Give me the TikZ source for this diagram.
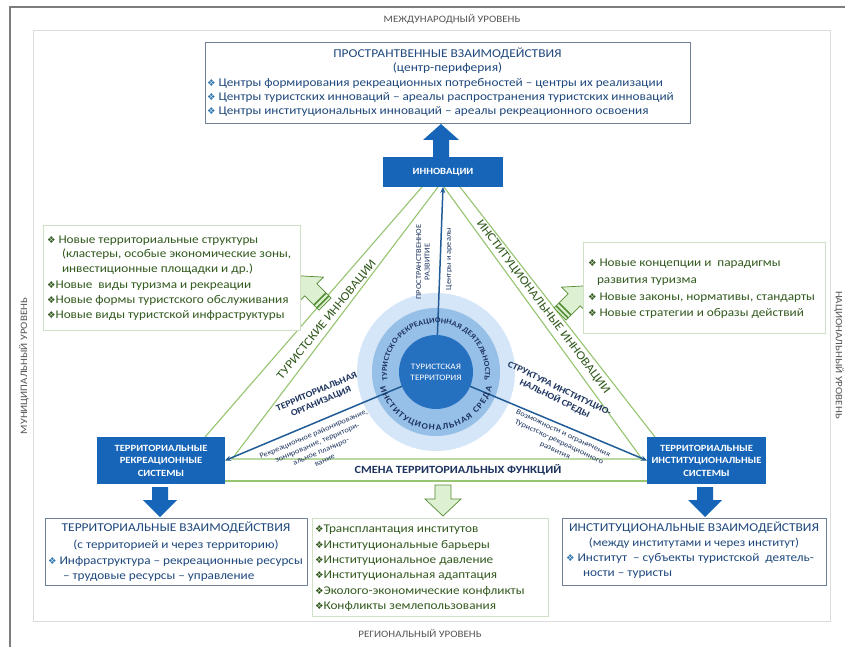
\documentclass[tikz,border=0pt]{standalone}
\usepackage{fontspec}
\setmainfont{Carlito}[FakeStretch=1.12]
\newfontfamily\symf{DejaVu Sans}
\usetikzlibrary{arrows.meta,decorations.text}
\definecolor{boxblue}{RGB}{22,101,184}
\definecolor{navy}{RGB}{30,52,95}
\definecolor{tblue}{RGB}{31,73,125}
\definecolor{gtext}{RGB}{50,90,30}
\definecolor{gline}{RGB}{150,196,112}
\definecolor{gbord}{RGB}{208,224,198}
\definecolor{gfill}{RGB}{222,240,210}
\definecolor{gdark}{RGB}{84,140,50}
\definecolor{framegray}{RGB}{125,125,125}
\definecolor{lframe}{RGB}{220,220,220}
\definecolor{wbord}{RGB}{112,128,150}
\definecolor{ringa}{RGB}{212,230,247}
\definecolor{ringb}{RGB}{150,192,232}
\definecolor{corec}{RGB}{38,112,192}
\definecolor{lineblue}{RGB}{33,92,150}
\definecolor{bulblue}{RGB}{50,120,175}
\definecolor{lvlgray}{RGB}{85,85,85}
\newcommand\fsz[2]{\fontsize{#1}{#2}\selectfont}
\newcommand\bul[1]{{\symf\fsz{9.5}{10}\color{#1}\char"2756}}
\begin{document}
\begin{tikzpicture}[x=1pt,y=-1pt,
  every node/.style={inner sep=0pt,outer sep=0pt},
  bluebox/.style={fill=boxblue,text=white,font=\bfseries\fsz{9.5}{12.5},align=center},
  wbox/.style={draw=wbord,line width=0.9pt,fill=white},
  gbox/.style={draw=gbord,line width=0.9pt,fill=white},
  bandline/.style={draw=gline,line width=1.1pt},
  bline/.style={draw=lineblue,line width=1.5pt,-{Stealth[length=6pt,width=5pt]}},
  lvl/.style={text=lvlgray,font=\fsz{9.8}{12}},
  bandtxt/.style={text=gtext,font=\fsz{12}{14}},
  tline/.style={text=tblue,font=\fsz{11.8}{14},anchor=base west},
  ttitle/.style={text=tblue,font=\fsz{12}{14},anchor=base},
  gtxt/.style={text=gtext,font=\fsz{11.8}{14},anchor=base west},
  garrow/.style={fill=gfill,draw=gdark,line width=0.7pt}
]
\useasboundingbox (0,0) rectangle (845,647);
\fill[white] (0,0) rectangle (845,647);
\draw[lframe,line width=1pt] (33,31) rectangle (830,621);
\draw[framegray,line width=2.5pt] (10,647) -- (10,7) -- (845,7);

% level labels
\node[lvl] (lvtop) at (452,19) {МЕЖДУНАРОДНЫЙ УРОВЕНЬ};
\node[lvl] (lvbot) at (420,634) {РЕГИОНАЛЬНЫЙ УРОВЕНЬ};
\node[lvl,rotate=90] (lvleft) at (24,366) {МУНИЦИПАЛЬНЫЙ УРОВЕНЬ};
\node[lvl,rotate=-90] (lvright) at (839,355) {НАЦИОНАЛЬНЫЙ УРОВЕНЬ};

% top box
\node[wbox,minimum width=485pt,minimum height=81pt] (topbox) at (447.5,82.5) {};
\node[ttitle] (tt1) at (447.5,58) {ПРОСТРАНТВЕННЫЕ ВЗАИМОДЕЙСТВИЯ};
\node[ttitle] (tt2) at (447.5,72) {(центр-периферия)};
\node[tline] (tb1) at (207,87) {\bul{bulblue} Центры формирования рекреационных потребностей – центры их реализации};
\node[tline] (tb2) at (207,101) {\bul{bulblue} Центры туристских инноваций – ареалы распространения туристских инноваций};
\node[tline] (tb3) at (207,114.5) {\bul{bulblue} Центры институциональных инноваций – ареалы рекреационного освоения};

% up arrow
\fill[boxblue] (433,157) -- (433,140) -- (423,140) -- (441,124) -- (459,140) -- (449,140) -- (449,157) -- cycle;

% green band
\draw[bandline] (422,187) -- (205,437);
\draw[bandline] (438,187) -- (232,459) -- (642,459) -- (444,187);
\draw[bandline] (460,187) -- (655,437);
\draw[bandline] (225,481) -- (647,481);
\node[bandtxt,rotate=51] (ti) at (327,320) {ТУРИСТСКИЕ ИННОВАЦИИ};
\node[bandtxt,rotate=-53] (ii) at (543,307) {ИНСТИТУЦИОНАЛЬНЫЕ ИННОВАЦИИ};
\node[text=navy,font=\bfseries\fsz{11}{13}] (smena) at (458,470) {СМЕНА ТЕРРИТОРИАЛЬНЫХ ФУНКЦИЙ};

% blue boxes
\node[bluebox,minimum width=120pt,minimum height=30pt] (inn) at (443,172) {ИННОВАЦИИ};
\node[bluebox,minimum width=128pt,minimum height=47pt] (trs) at (161,460.5) {ТЕРРИТОРИАЛЬНЫЕ\\РЕКРЕАЦИОННЫЕ\\СИСТЕМЫ};
\node[bluebox,minimum width=119pt,minimum height=47pt] (tis) at (706.5,460.5) {ТЕРРИТОРИАЛЬНЫЕ\\ИНСТИТУЦИОНАЛЬНЫЕ\\СИСТЕМЫ};

% circles
\coordinate (c) at (436,372);
\fill[ringa] (c) circle[radius=79];
\fill[ringb] (c) circle[radius=64];
\draw[bline] (c) -- (inn.south);
\draw[bline] (c) -- (trs.east);
\draw[bline] (c) -- (tis.west);
\node[circle,fill=corec,minimum size=74pt,text=white,font=\fsz{8.3}{11},align=center] (core) at (c) {ТУРИСТСКАЯ\\ТЕРРИТОРИЯ};
\path[decorate,decoration={text along path,text color=navy,
  text={|\bfseries\fsz{7.5}{9}|ТУРИСТСКО-РЕКРЕАЦИОННАЯ ДЕЯТЕЛЬНОСТЬ},text align={fit to path}}]
  (c) ++(170:49) arc[start angle=170,end angle=370,radius=49];
\path[decorate,decoration={text along path,text color=navy,
  text={|\bfseries\fsz{8.5}{10}|ИНСТИТУЦИОНАЛЬНАЯ СРЕДА},text align={fit to path}}]
  (c) ++(165:58) arc[start angle=165,end angle=15,radius=58];

% line labels
\node[text=navy,font=\fsz{7.5}{8.5},rotate=90,align=center] (pr) at (423,262) {ПРОСТРАНСТВЕННОЕ\\РАЗВИТИЕ};
\node[text=navy,font=\fsz{7.5}{8.5},rotate=90] (ca) at (449,259) {Центры и ареалы};
\node[text=navy,font=\bfseries\fsz{9}{11},rotate=23,align=center] (to) at (319,397) {ТЕРРИТОРИАЛЬНАЯ\\ОРГАНИЗАЦИЯ};
\node[text=navy,font=\fsz{7.5}{9.5},rotate=23,align=center] (rr) at (319,447) {Рекреационное районирование,\\зонирование, территори-\\альное планиро-\\вание};
\node[text=navy,font=\bfseries\fsz{9}{11},rotate=-26,align=center] (si) at (557,394) {СТРУКТУРА ИНСТИТУЦИО-\\НАЛЬНОЙ СРЕДЫ};
\node[text=navy,font=\fsz{7.5}{9.5},rotate=-25,align=center] (vo) at (559,442) {Возможности и ограничения\\Туристско-рекреационного\\развития};

% green diagonal arrows
\begin{scope}[shift={(325,304)},rotate=135]
  \path[garrow] (0,-8.5) -- (20,-8.5) -- (20,-18) -- (40,0) -- (20,18) -- (20,8.5) -- (0,8.5) -- cycle;
  \draw[gdark,line width=1.6pt] (3,-8.5) -- (3,8.5) (7,-8.5) -- (7,8.5);
\end{scope}
\begin{scope}[shift={(560,314)},rotate=45]
  \path[garrow] (0,-8.5) -- (20,-8.5) -- (20,-18) -- (40,0) -- (20,18) -- (20,8.5) -- (0,8.5) -- cycle;
  \draw[gdark,line width=1.6pt] (3,-8.5) -- (3,8.5) (7,-8.5) -- (7,8.5);
\end{scope}

% green boxes
\node[gbox,minimum width=257pt,minimum height=105pt] (lgb) at (171.5,277.5) {};
\node[gtxt] (lg1) at (47,243) {\bul{gtext} Новые территориальные структуры};
\node[gtxt] (lg2) at (62,257) {(кластеры, особые экономические зоны,};
\node[gtxt] (lg3) at (62,272) {инвестиционные площадки и др.)};
\node[gtxt] (lg4) at (47,288) {\bul{gtext}Новые\ \ виды туризма и рекреации};
\node[gtxt] (lg5) at (47,303) {\bul{gtext}Новые формы туристского обслуживания};
\node[gtxt] (lg6) at (47,318) {\bul{gtext}Новые виды туристской инфраструктуры};

\node[gbox,minimum width=242pt,minimum height=91pt] (rgb) at (704,287.5) {};
\node[gtxt] (rg1) at (588,266.5) {\bul{gtext} Новые концепции и\ \ парадигмы};
\node[gtxt] (rg2) at (597,283.5) {развития туризма};
\node[gtxt] (rg3) at (588,300.5) {\bul{gtext} Новые законы, нормативы, стандарты};
\node[gtxt] (rg4) at (588,316) {\bul{gtext} Новые стратегии и образы действий};

% down arrows
\fill[boxblue] (152,487) -- (152,500) -- (143,500) -- (160,517) -- (177,500) -- (168,500) -- (168,487) -- cycle;
\fill[boxblue] (697,487) -- (697,500) -- (688,500) -- (705,517) -- (722,500) -- (713,500) -- (713,487) -- cycle;
\path[garrow] (435,485) -- (435,499) -- (425,499) -- (443,516) -- (461,499) -- (451,499) -- (451,485) -- cycle;

% bottom left box
\node[wbox,minimum width=262pt,minimum height=67pt] (blb) at (176,551.5) {};
\node[ttitle] (bl1) at (176,531) {ТЕРРИТОРИАЛЬНЫЕ ВЗАИМОДЕЙСТВИЯ};
\node[ttitle,font=\fsz{11.8}{14}] (bl2) at (176,548) {(с территорией и через территорию)};
\node[tline] (bl3) at (48,564) {\bul{bulblue} Инфраструктура – рекреационные ресурсы};
\node[tline] (bl4) at (63,579) {– трудовые ресурсы – управление};

% bottom centre box
\node[gbox,minimum width=236pt,minimum height=98pt] (bcb) at (430,567) {};
\node[gtxt] (bc1) at (315,532.5) {\bul{gtext}Трансплантация институтов};
\node[gtxt] (bc2) at (315,548) {\bul{gtext}Институциональные барьеры};
\node[gtxt] (bc3) at (315,563) {\bul{gtext}Институциональное давление};
\node[gtxt] (bc4) at (315,578.5) {\bul{gtext}Институциональная адаптация};
\node[gtxt] (bc5) at (315,594) {\bul{gtext}Эколого-экономические конфликты};
\node[gtxt] (bc6) at (315,609) {\bul{gtext}Конфликты землепользования};

% bottom right box
\node[wbox,minimum width=264pt,minimum height=67pt] (brb) at (694,551.5) {};
\node[ttitle] (br1) at (694,531) {ИНСТИТУЦИОНАЛЬНЫЕ ВЗАИМОДЕЙСТВИЯ};
\node[ttitle,font=\fsz{11.5}{14}] (br2) at (694,546) {(между институтами и через институт)};
\node[tline] (br3) at (566,561) {\bul{bulblue} Институт\ \ – субъекты туристской\ \ деятель-};
\node[tline] (br4) at (583,576) {ности – туристы};
\end{tikzpicture}
\end{document}
